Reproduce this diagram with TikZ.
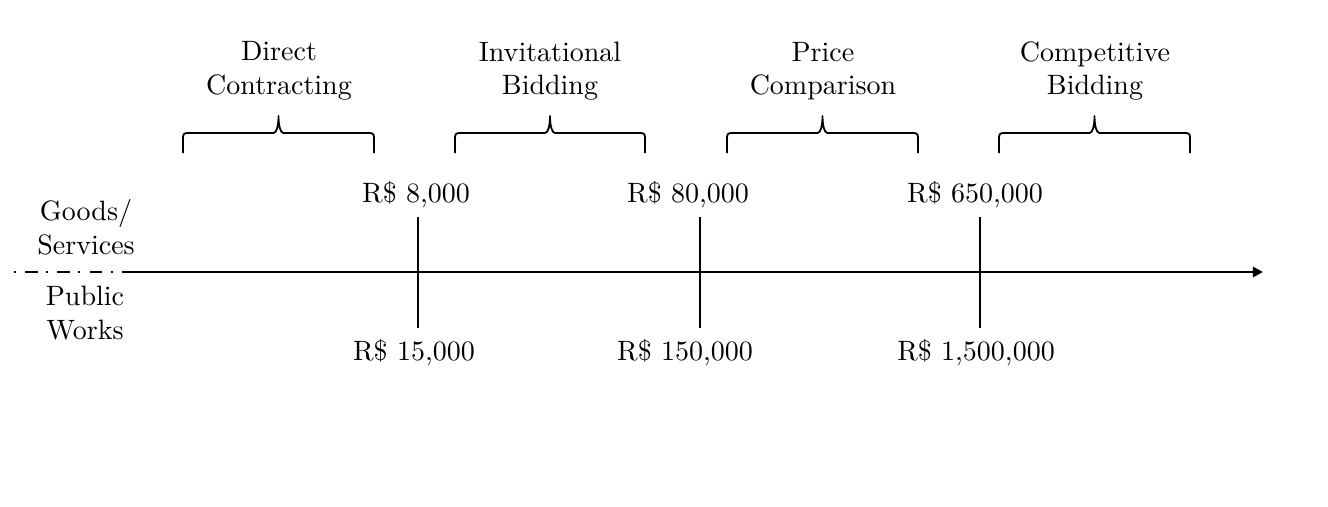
\documentclass[tikz,border=0pt]{standalone}
\usetikzlibrary{arrows.meta,calc}
\begin{document}
\begin{tikzpicture}[x=0.3571pt,y=-0.3571pt,
  lbl/.style={inner sep=0pt,align=center},
  tickline/.style={line width=0.95pt},
  bracepath/.style={line width=0.65pt,line join=round},
  axisline/.style={line width=0.95pt}]
\useasboundingbox (0,0) rectangle (1328,506);
% axis
\coordinate (a0) at (14,272);
\coordinate (a1) at (125,272);
\coordinate (a2) at (1263,272);
\draw[axisline,dash pattern=on 0.7pt off 3.3pt on 4.6pt off 2.9pt] (a0) -- (a1);
\draw[axisline,-{Triangle[length=3.6pt,width=3.6pt]}] (a1) -- (a2);
% side labels
\node[lbl] (gs) at (86,227) {Goods/\\Services};
\node[lbl] (pw) at (85,313) {Public\\Works};
% ticks
\foreach \n/\x in {1/418,2/700,3/980}{
  \coordinate (t\n a) at (\x,217);
  \coordinate (t\n b) at (\x,328);
  \draw[tickline] (t\n a) -- (t\n b);
}
% upper values
\node[lbl] (u1) at (416,195) {R\$ 8,000};
\node[lbl] (u2) at (688,195) {R\$ 80,000};
\node[lbl] (u3) at (975,195) {R\$ 650,000};
% lower values
\node[lbl] (d1) at (414,353) {R\$ 15,000};
\node[lbl] (d2) at (685,353) {R\$ 150,000};
\node[lbl] (d3) at (976,353) {R\$ 1,500,000};
% braces
\foreach \n/\xa/\xb in {1/183/374,2/455/645,3/727/918,4/999/1190}{
  \pgfmathsetmacro{\xm}{(\xa+\xb)/2}
  \coordinate (b\n l) at (\xa,153);
  \coordinate (b\n r) at (\xb,153);
  \coordinate (b\n t) at (\xm,116);
  \draw[bracepath] (b\n l) -- ++(0,-15) .. controls ++(0,-4) and ++(-4,0) .. ++(5,-5)
     -- ($(b\n t)+(-5,17)$) .. controls ++(3,0) and ++(0,10) .. (b\n t)
     .. controls ++(0,10) and ++(-3,0) .. ($(b\n t)+(5,17)$)
     -- ($(b\n r)+(-5,-20)$) .. controls ++(4,0) and ++(0,-4) .. ++(5,5) -- (b\n r);
}
% brace labels
\node[lbl] (c1) at (279,71) {Direct\\Contracting};
\node[lbl] (c2) at (550,71) {Invitational\\Bidding};
\node[lbl] (c3) at (823,71) {Price\\Comparison};
\node[lbl] (c4) at (1095,71) {Competitive\\Bidding};
\end{tikzpicture}
\end{document}
